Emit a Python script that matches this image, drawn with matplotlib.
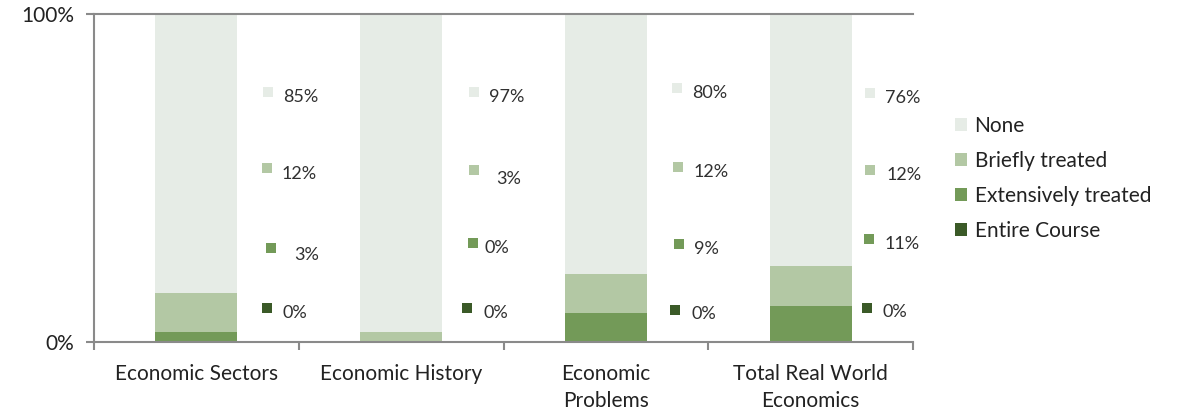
import matplotlib
matplotlib.use('Agg')
import matplotlib.pyplot as plt
import numpy as np
from matplotlib.patches import Patch

plt.rcParams['font.family'] = ['Lato', 'DejaVu Sans']

categories = ['Economic Sectors', 'Economic History', 'Economic\nProblems', 'Total Real World\nEconomics']
series = ['None', 'Briefly treated', 'Extensively treated', 'Entire Course']
entire = [0, 0, 0, 0]
extensive = [3, 0, 9, 11]
briefly = [12, 3, 12, 12]
none = [85, 97, 80, 76]

colors = {'None': '#e6ece6', 'Briefly treated': '#b3c8a4',
          'Extensively treated': '#739a58', 'Entire Course': '#3b5a28'}

# pixel spots of the little label keys (square centre, text left edge), per category
# order: none, briefly, extensive, entire
key_px = [
    [(268, 92, 283, 97), (267, 168, 282, 174), (271, 248, 294, 255), (267, 308, 283, 313)],
    [(474, 92, 489, 97), (474, 170, 497, 179), (473, 243, 485, 248), (467, 308, 484, 313)],
    [(678, 88, 693, 93), (679, 167, 694, 172), (680, 244, 695, 249), (676, 310, 692, 314)],
    [(871, 93, 886, 98), (871, 170, 887, 175), (870, 239, 885, 244), (868, 308, 883, 312)],
]

fig = plt.figure(figsize=(11.85, 4.13), dpi=100)
ax = fig.add_axes([94/1185, 1-342/413, (913-94)/1185, (342-14)/413])

x = np.arange(len(categories))
w = 0.4
# 100% stacked: each bar scaled to its own total
totals = np.array(entire) + np.array(extensive) + np.array(briefly) + np.array(none)
bottom = np.zeros(len(categories))
for name, vals in [('Entire Course', entire), ('Extensively treated', extensive),
                   ('Briefly treated', briefly), ('None', none)]:
    share = np.array(vals) / totals * 100
    ax.bar(x, share, w, bottom=bottom, color=colors[name], linewidth=0)
    bottom += share

ax.set_xlim(-0.5, 3.5)
ax.set_ylim(0, 100)


def px2data(px, py):
    return (px - 94) / 205.0 - 0.5, (342 - py) / 328.0 * 100


order = ['None', 'Briefly treated', 'Extensively treated', 'Entire Course']
for i in range(len(categories)):
    vals = [none[i], briefly[i], extensive[i], entire[i]]
    for j, name in enumerate(order):
        sx, sy, tx, ty = key_px[i][j]
        dx, dy = px2data(sx, sy)
        ax.plot([dx], [dy], marker='s', ms=7, color=colors[name], mew=0, clip_on=False)
        tdx, tdy = px2data(tx, ty)
        ax.text(tdx, tdy, '%d%%' % vals[j], fontsize=13, color='#303030',
                ha='left', va='center')

ax.spines['right'].set_visible(False)
for side in ['left', 'bottom', 'top']:
    ax.spines[side].set_color('#8a8a8a')
    ax.spines[side].set_linewidth(1.5)

ax.set_yticks([0, 100])
ax.set_yticklabels(['0%', '100%'], fontsize=15, color='#222222')
ax.tick_params(axis='y', length=6, width=1.5, color='#8a8a8a', pad=8)

ax.set_xticks(x)
ax.set_xticklabels(categories, fontsize=15, color='#222222', linespacing=1.45)
ax.set_xticks(np.arange(-0.5, 4, 1), minor=True)
ax.tick_params(axis='x', which='major', length=0, pad=16)
ax.tick_params(axis='x', which='minor', length=6, width=1.5, color='#8a8a8a')

handles = [Patch(facecolor=colors[n], edgecolor='none') for n in series]
fig.legend(handles, series, loc='center left', bbox_to_anchor=(936/1185, 1-178/413),
           frameon=False, fontsize=15, handlelength=0.6, handleheight=0.6,
           handletextpad=0.35, labelspacing=0.72, labelcolor='#222222')

fig.savefig('out.png', dpi=100)
